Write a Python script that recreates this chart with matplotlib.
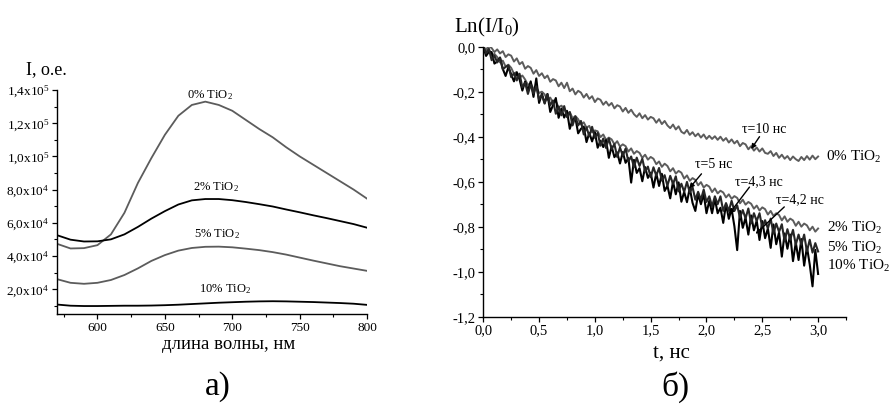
import numpy as np
import matplotlib
matplotlib.use("Agg")
import matplotlib.pyplot as plt
from matplotlib.ticker import MultipleLocator, FuncFormatter

plt.rcParams['font.family'] = ['Liberation Serif', 'DejaVu Serif']
plt.rcParams['mathtext.fontset'] = 'custom'
plt.rcParams['mathtext.rm'] = 'Liberation Serif'
plt.rcParams['mathtext.it'] = 'Liberation Serif:italic'
plt.rcParams['mathtext.bf'] = 'Liberation Serif:bold'

# ---------------- panel a: emission spectra ----------------
wavelength = [570, 580, 590, 600, 610, 620, 630, 640, 650, 660, 670, 680,
              690, 700, 710, 720, 730, 740, 750, 760, 770, 780, 790, 800]
spec_0 = [47300, 44500, 44700, 46500, 53000, 66000, 84000, 99000, 113000, 124500, 131000, 133000,
          131000, 127500, 122000, 116500, 111500, 105500, 100000, 95000, 90000, 85000, 80000, 74500]
spec_2 = [52500, 49800, 48700, 48800, 50000, 53000, 57500, 62500, 67000, 71000, 73500, 74300,
          74300, 73600, 72500, 71200, 69800, 68000, 66300, 64500, 62800, 61000, 59200, 57000]
spec_5 = [26000, 23800, 23200, 23800, 25500, 28500, 32500, 37000, 40500, 43200, 44800, 45500,
          45600, 45200, 44400, 43500, 42300, 40800, 39000, 37200, 35500, 33800, 32400, 31000]
spec_10 = [10700, 10000, 9800, 9800, 9900, 10000, 10000, 10100, 10300, 10600, 11000, 11400,
           11800, 12100, 12400, 12600, 12700, 12600, 12400, 12200, 11900, 11600, 11200, 10500]
spec_labels = [r'0% TiO$_2$', r'2% TiO$_2$', r'5% TiO$_2$', r'10% TiO$_2$']
ytick_labels_a = [r'2,0x10$^4$', r'4,0x10$^4$', r'6,0x10$^4$', r'8,0x10$^4$',
                  r'1,0x10$^5$', r'1,2x10$^5$', r'1,4x10$^5$']

# ---------------- panel b: decay curves ----------------
t = np.linspace(0, 3, 121)
ln_0 = [0.000, -0.012, 0.002, -0.006, -0.024, -0.012, -0.030, -0.020, -0.046, -0.034,
        -0.040, -0.066, -0.052, -0.078, -0.068, -0.098, -0.086, -0.094, -0.120, -0.104,
        -0.130, -0.118, -0.140, -0.128, -0.156, -0.144, -0.150, -0.176, -0.160, -0.184,
        -0.160, -0.198, -0.186, -0.212, -0.196, -0.204, -0.226, -0.210, -0.232, -0.220,
        -0.246, -0.230, -0.236, -0.258, -0.244, -0.262, -0.250, -0.274, -0.260, -0.266,
        -0.288, -0.272, -0.294, -0.280, -0.300, -0.312, -0.296, -0.318, -0.304, -0.324,
        -0.312, -0.318, -0.338, -0.322, -0.344, -0.330, -0.350, -0.362, -0.346, -0.368,
        -0.354, -0.378, -0.386, -0.370, -0.392, -0.380, -0.398, -0.386, -0.404, -0.390,
        -0.410, -0.396, -0.410, -0.398, -0.414, -0.400, -0.418, -0.406, -0.426, -0.412,
        -0.430, -0.418, -0.442, -0.428, -0.434, -0.456, -0.442, -0.462, -0.448, -0.466,
        -0.452, -0.472, -0.476, -0.464, -0.486, -0.472, -0.494, -0.480, -0.498, -0.486,
        -0.504, -0.488, -0.500, -0.508, -0.490, -0.504, -0.486, -0.502, -0.484, -0.500,
        -0.488]
ln_2 = [-0.004, -0.018, -0.010, -0.040, -0.032, -0.046, -0.070, -0.062, -0.088, -0.080,
        -0.094, -0.120, -0.112, -0.138, -0.128, -0.146, -0.170, -0.162, -0.188, -0.178,
        -0.206, -0.200, -0.212, -0.236, -0.226, -0.250, -0.242, -0.270, -0.262, -0.276,
        -0.300, -0.290, -0.318, -0.308, -0.322, -0.346, -0.336, -0.360, -0.352, -0.380,
        -0.372, -0.376, -0.402, -0.390, -0.414, -0.404, -0.412, -0.434, -0.420, -0.444,
        -0.434, -0.442, -0.466, -0.452, -0.476, -0.464, -0.472, -0.494, -0.480, -0.502,
        -0.490, -0.498, -0.522, -0.510, -0.534, -0.520, -0.530, -0.554, -0.540, -0.564,
        -0.552, -0.560, -0.586, -0.572, -0.596, -0.584, -0.592, -0.616, -0.602, -0.626,
        -0.614, -0.622, -0.646, -0.630, -0.652, -0.640, -0.648, -0.670, -0.656, -0.676,
        -0.664, -0.672, -0.696, -0.680, -0.702, -0.690, -0.698, -0.720, -0.706, -0.728,
        -0.714, -0.722, -0.746, -0.730, -0.752, -0.740, -0.748, -0.772, -0.754, -0.778,
        -0.764, -0.772, -0.796, -0.778, -0.800, -0.786, -0.794, -0.816, -0.800, -0.822,
        -0.808]
ln_5 = [0.000, -0.030, -0.010, -0.060, -0.040, -0.070, -0.050, -0.100, -0.090, -0.083,
        -0.135, -0.118, -0.150, -0.120, -0.180, -0.160, -0.210, -0.169, -0.208, -0.176,
        -0.235, -0.214, -0.253, -0.211, -0.260, -0.239, -0.298, -0.266, -0.305, -0.264,
        -0.313, -0.291, -0.350, -0.310, -0.350, -0.330, -0.390, -0.359, -0.398, -0.356,
        -0.405, -0.383, -0.440, -0.408, -0.450, -0.408, -0.455, -0.433, -0.490, -0.448,
        -0.485, -0.453, -0.510, -0.488, -0.535, -0.493, -0.530, -0.498, -0.555, -0.533,
        -0.580, -0.536, -0.573, -0.539, -0.595, -0.571, -0.618, -0.574, -0.610, -0.576,
        -0.643, -0.609, -0.645, -0.601, -0.648, -0.624, -0.680, -0.645, -0.680, -0.635,
        -0.690, -0.665, -0.710, -0.665, -0.700, -0.665, -0.730, -0.695, -0.730, -0.685,
        -0.730, -0.705, -0.760, -0.726, -0.763, -0.719, -0.785, -0.740, -0.775, -0.740,
        -0.805, -0.771, -0.808, -0.764, -0.830, -0.786, -0.823, -0.789, -0.865, -0.811,
        -0.858, -0.814, -0.880, -0.835, -0.880, -0.835, -0.910, -0.858, -0.915, -0.873,
        -0.910]
ln_10 = [0.000, -0.041, -0.023, -0.024, -0.075, -0.066, -0.048, -0.099, -0.130, -0.091,
         -0.123, -0.154, -0.115, -0.145, -0.195, -0.155, -0.195, -0.154, -0.223, -0.141,
         -0.250, -0.210, -0.250, -0.210, -0.290, -0.260, -0.228, -0.316, -0.275, -0.315,
         -0.285, -0.365, -0.325, -0.315, -0.385, -0.365, -0.355, -0.424, -0.383, -0.421,
         -0.380, -0.449, -0.418, -0.446, -0.415, -0.494, -0.443, -0.491, -0.470, -0.519,
         -0.468, -0.516, -0.495, -0.604, -0.503, -0.561, -0.540, -0.598, -0.535, -0.583,
         -0.560, -0.626, -0.563, -0.619, -0.565, -0.641, -0.618, -0.674, -0.600, -0.656,
         -0.603, -0.689, -0.645, -0.691, -0.628, -0.694, -0.730, -0.655, -0.700, -0.655,
         -0.740, -0.685, -0.740, -0.676, -0.740, -0.716, -0.783, -0.699, -0.765, -0.721,
         -0.798, -0.904, -0.730, -0.805, -0.760, -0.835, -0.750, -0.816, -0.773, -0.859,
         -0.775, -0.851, -0.808, -0.894, -0.790, -0.878, -0.825, -0.933, -0.830, -0.898,
         -0.835, -0.953, -0.870, -0.948, -0.855, -0.973, -0.890, -0.968, -1.065, -0.903,
         -1.010]
decay_labels = [r'0% TiO$_2$', r'2% TiO$_2$', r'5% TiO$_2$', r'10% TiO$_2$']
tau_labels = ['τ=10 нс', 'τ=5 нс', 'τ=4,3 нс', 'τ=4,2 нс']

GRAY = '#5c5c5c'
DARK = '#262626'

fig = plt.figure(figsize=(8.91, 4.05), dpi=100)

# ---- panel a ----
axa = fig.add_axes([0.064, 0.2247, 0.348, 0.553])
axa.plot(wavelength, spec_0, color=GRAY, lw=1.3)
axa.plot(wavelength, spec_2, color='black', lw=1.3)
axa.plot(wavelength, spec_5, color=GRAY, lw=1.3)
axa.plot(wavelength, spec_10, color='black', lw=1.3)
axa.set_xlim(570, 800)
axa.set_ylim(5000, 140000)
axa.spines['top'].set_visible(False)
axa.spines['right'].set_visible(False)
axa.xaxis.set_major_locator(MultipleLocator(50))
axa.xaxis.set_minor_locator(MultipleLocator(25))
axa.set_yticks([20000, 40000, 60000, 80000, 100000, 120000, 140000])
axa.set_yticklabels(ytick_labels_a)
axa.yaxis.set_minor_locator(MultipleLocator(10000))
axa.tick_params(which='major', direction='out', length=3.5, width=0.9, labelsize=9.5, pad=2)
axa.tick_params(which='minor', direction='out', length=2, width=0.8)
for s in ['left', 'bottom']:
    axa.spines[s].set_linewidth(1.0)
label_pos_a = [(683.5, 135000), (688, 79400), (689, 51300), (695, 18200)]
for lab, (xx, yy) in zip(spec_labels, label_pos_a):
    axa.text(xx, yy, lab, ha='center', va='baseline', fontsize=9)
fig.text(0.0516, 0.827, 'I, о.е.', ha='center', va='center', fontsize=13)
fig.text(0.257, 0.150, 'длина волны, нм', ha='center', va='center', fontsize=13.5)
fig.text(0.245, 0.045, 'а)', ha='center', va='center', fontsize=24)

# ---- panel b ----
axb = fig.add_axes([0.5424, 0.218, 0.4071, 0.6667])
axb.plot(t, ln_0, color=GRAY, lw=1.4)
axb.plot(t, ln_2, color=GRAY, lw=1.4)
axb.plot(t, ln_10, color='black', lw=1.5)
axb.plot(t, ln_5, color=DARK, lw=1.5)
axb.set_xlim(0, 3.25)
axb.set_ylim(-1.2, 0.0)
axb.spines['top'].set_visible(False)
axb.spines['right'].set_visible(False)
axb.xaxis.set_major_locator(MultipleLocator(0.5))
axb.xaxis.set_minor_locator(MultipleLocator(0.25))
axb.yaxis.set_major_locator(MultipleLocator(0.2))
axb.yaxis.set_minor_locator(MultipleLocator(0.1))
comma = FuncFormatter(lambda v, p: ('%.1f' % v).replace('.', ',').replace('-0,0', '0,0'))
axb.xaxis.set_major_formatter(comma)
axb.yaxis.set_major_formatter(comma)
axb.tick_params(which='major', direction='out', length=3.5, width=0.9, labelsize=10.5, pad=2)
axb.tick_params(which='minor', direction='out', length=2, width=0.8)
for s in ['left', 'bottom']:
    axb.spines[s].set_linewidth(1.0)

label_pos_b = [(3.07, -0.507), (3.083, -0.822), (3.083, -0.911), (3.083, -0.992)]
for lab, (xx, yy) in zip(decay_labels, label_pos_b):
    axb.text(xx, yy, lab, ha='left', va='baseline', fontsize=11, clip_on=False)

tau_pos = [(2.314, -0.385), (1.894, -0.541), (2.251, -0.615), (2.627, -0.696)]
tau_arrows = [((2.475, -0.400), (2.40, -0.455)),
              ((1.955, -0.565), (1.845, -0.630)),
              ((2.385, -0.624), (2.200, -0.745)),
              ((2.697, -0.712), (2.440, -0.832))]
for lab, (xx, yy), (st, en) in zip(tau_labels, tau_pos, tau_arrows):
    axb.text(xx, yy, lab, ha='left', va='baseline', fontsize=10)
    axb.annotate('', xy=en, xytext=st,
                 arrowprops=dict(arrowstyle='-|>', color='black', lw=1.0,
                                 mutation_scale=7, shrinkA=0, shrinkB=0))

fig.text(0.547, 0.931, r'Ln(I/I$_0$)', ha='center', va='center', fontsize=15)
fig.text(0.754, 0.128, 't, нс', ha='center', va='center', fontsize=15)
fig.text(0.758, 0.045, 'б)', ha='center', va='center', fontsize=24)

fig.savefig('out.png', dpi=100)
